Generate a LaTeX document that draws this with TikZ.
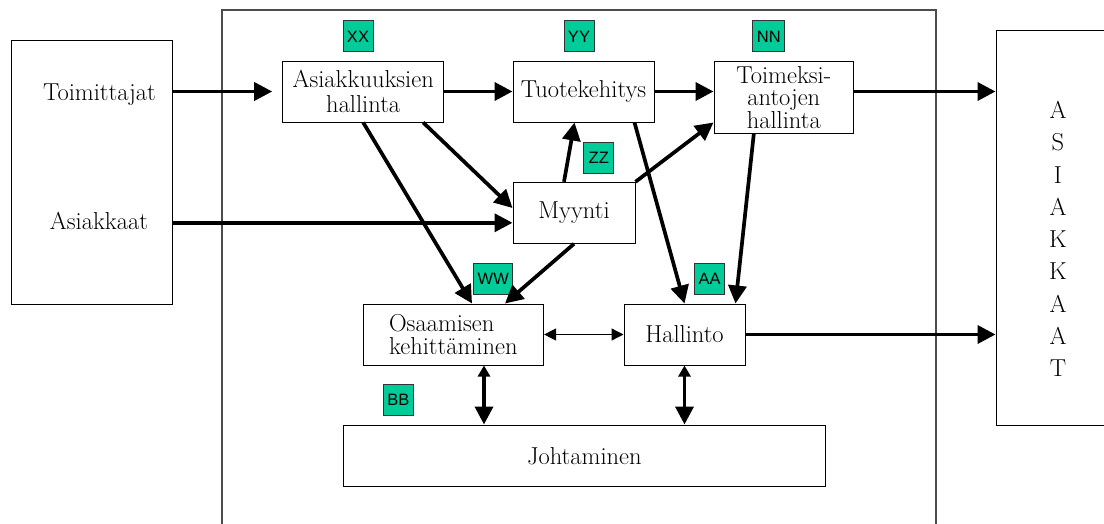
\documentclass[tikz,border=0pt]{standalone}
\usepackage{fontspec}
\newfontfamily\labfont{Liberation Sans}
\usetikzlibrary{arrows.meta,calc}
\definecolor{tagg}{RGB}{0,204,153}
\begin{document}
\begin{tikzpicture}[x=1pt,y=-1pt,
  box/.style={draw=black,line width=1pt,rectangle,inner sep=0pt,align=center,font=\fontsize{24.5}{25}\selectfont},
  tag/.style={draw=black!80,line width=0.9pt,fill=tagg,inner xsep=4pt,inner ysep=0pt,minimum width=30pt,minimum height=31pt,font=\labfont\fontsize{16.5}{16.5}\selectfont},
  txt/.style={inner sep=0pt,font=\fontsize{24.5}{25}\selectfont},
  frame/.style={draw=black!70,line width=1.3pt},
  big/.style={line width=3.7pt,-{Triangle[length=18pt,width=18pt]}},
  bigboth/.style={line width=3.7pt,{Triangle[length=11pt,width=12pt]}-{Triangle[length=18pt,width=18pt]}},
  thinboth/.style={line width=1.3pt,{Triangle[length=12pt,width=12pt]}-{Triangle[length=12pt,width=12pt]}}
]
\useasboundingbox[fill=white] (0,0) rectangle (1104,523);
\draw[frame] (222,540) -- (222,10) -- (936,10) -- (936,540);

\node[box,minimum width=161.5pt,minimum height=263.3pt] (L) at (91.75,172.6) {};
\node[txt,anchor=base] (toim) at (99.5,100) {Toimittajat};
\node[txt,anchor=base] (asia) at (99,229) {Asiakkaat};
\node[box,minimum width=140pt,minimum height=394.3pt] (R) at (1066,227.9) {};
\node[txt,align=center,font=\fontsize{24.5}{32.25}\selectfont] (Rt) at (1058,239) {A\\S\\I\\A\\K\\K\\A\\A\\T};

\node[box,minimum width=161pt,minimum height=61pt] (A) at (363.2,91.5) {Asiakkuuksien\\hallinta};
\node[box,minimum width=141pt,minimum height=61pt] (T) at (583.5,91.5) {Tuotekehitys};
\node[box,minimum width=139.6pt,minimum height=71.7pt,font=\fontsize{24.5}{22.5}\selectfont] (N) at (783.8,97.5) {Toimeksi-\\antojen\\hallinta};
\node[box,minimum width=122pt,minimum height=61pt] (M) at (574,212.8) {Myynti};
\node[box,minimum width=180.6pt,minimum height=61pt,align=left,font=\fontsize{24.5}{23.5}\selectfont] (O) at (453.3,334.5) {Osaamisen\\kehittäminen};
\node[box,minimum width=121pt,minimum height=61pt] (H) at (684.5,334.5) {Hallinto};
\node[box,minimum width=482.7pt,minimum height=61.7pt] (J) at (584.35,455.85) {Johtaminen};

\node[tag] (xx) at (358,36.4) {XX};
\node[tag] (yy) at (579,36.4) {YY};
\node[tag] (nn) at (768.8,36.4) {NN};
\node[tag] (zz) at (598.8,157.7) {ZZ};
\node[tag] (ww) at (493.3,278.5) {WW};
\node[tag] (aa) at (709.5,278.5) {AA};
\node[tag] (bb) at (398.3,400.3) {BB};

\coordinate (m1) at ($(M.west)+(0,10)$);
\coordinate (o1) at ($(O.south)+(30.7,0)$);
\draw[big] (L.east |- m1) -- (m1);
\draw[big] (L.east |- A.west) -- ($(A.west)+(-10,0)$);
\draw[big] (A.east) -- (T.west);
\draw[big] (T.east) -- (N.west |- T.east);
\draw[big] (N.east |- T.east) -- (R.west |- T.east);
\draw[big] (H.east) -- (R.west |- H.east);
\draw[big] ($(A.south)+(60,0)$) -- ($(M.west)+(0,-4.8)$);
\draw[big] (A.south) -- ($(O.north)+(18.7,0)$);
\draw[big] ($(M.north)+(-10,0)$) -- ($(T.south)+(-9,0)$);
\draw[big] (M.north east) -- ($(N.west)+(0,25)$);
\draw[big] ($(T.south)+(51,0)$) -- (H.north);
\draw[big] ($(N.south)+(-30,0)$) -- ($(H.north)+(51,0)$);
\draw[big] (M.south) -- ($(O.north)+(51.7,0)$);
\draw[thinboth] (O.east) -- (H.west);
\draw[bigboth] (o1) -- (J.north -| o1);
\draw[bigboth] (H.south) -- (J.north -| H.south);
\end{tikzpicture}
\end{document}
